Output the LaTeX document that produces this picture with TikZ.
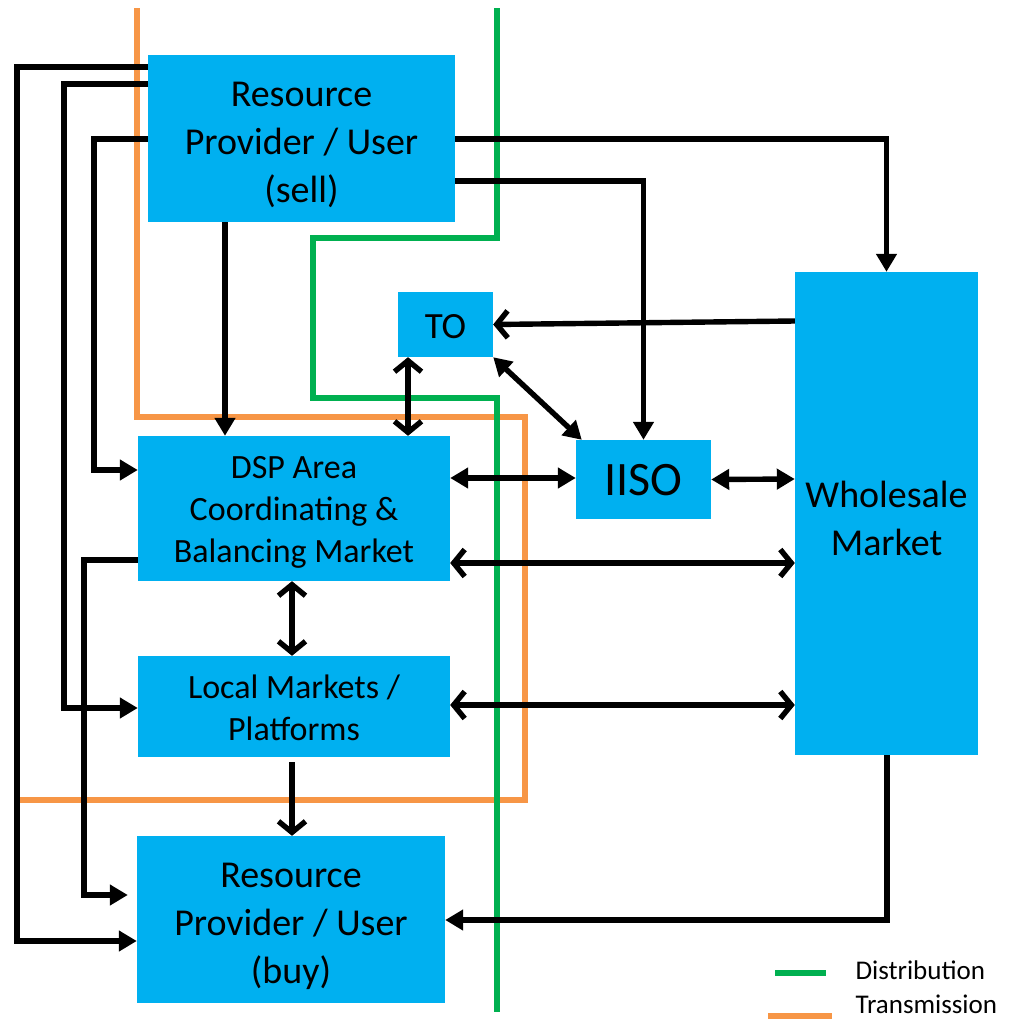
\documentclass[tikz,border=0pt]{standalone}
\usepackage{fontspec}
\setmainfont{Carlito}
\usetikzlibrary{arrows.meta,calc}
\definecolor{boxblue}{HTML}{00B0F0}
\definecolor{distgreen}{HTML}{00B050}
\definecolor{transorange}{HTML}{F79646}
\begin{document}
\begin{tikzpicture}[x=1pt,y=-1pt,
  box/.style={fill=boxblue, inner sep=0pt},
  txt/.style={align=center, text=black, inner sep=0pt},
  conn/.style={line width=5.4pt, black},
  tri/.style={conn, -{Triangle[length=18pt,width=20pt]}},
  tritri/.style={conn, {Triangle[length=18pt,width=20pt]}-{Triangle[length=18pt,width=20pt]}},
  barb/.style={conn, -{Straight Barb[length=11pt,width=27pt]}},
  barbbarb/.style={conn, {Straight Barb[length=11pt,width=27pt]}-{Straight Barb[length=11pt,width=27pt]}},
  dist/.style={line width=5.6pt, distgreen},
  trans/.style={line width=5.6pt, transorange},
  big/.style={font=\fontsize{38}{48}\selectfont},
  mid/.style={font=\fontsize{34}{42}\selectfont},
  leg/.style={font=\fontsize{27}{30}\selectfont, anchor=west}
]
\useasboundingbox (0,0) rectangle (1014,1021);
% region boundaries
\draw[trans] (137,8) -- (137,417) -- (525,417) -- (525,800) -- (20,800);
\draw[dist] (497,8) -- (497,238) -- (313,238) -- (313,398) -- (497,398) -- (497,1012);
% boxes
\node[box, minimum width=307pt, minimum height=167pt] (sell) at (301.5,138.5) {};
\node[txt, big] (selltxt) at ($(sell.center)+(0,6)$) {Resource\\Provider / User\\(sell)};
\node[box, minimum width=95pt, minimum height=65pt] (to) at (445.5,324.5) {};
\node[txt, font=\fontsize{37}{44}\selectfont] (totxt) at ($(to.center)+(0,2)$) {TO};
\node[box, minimum width=312pt, minimum height=145pt] (dsp) at (294,508.5) {};
\node[txt, mid] (dsptxt) at ($(dsp.center)+(0,4)$) {DSP Area\\Coordinating \&\\Balancing Market};
\node[box, minimum width=135pt, minimum height=79pt] (iiso) at (643.5,479.5) {};
\node[txt, font=\fontsize{48}{56}\selectfont] (iisotxt) at ($(iiso.center)+(0,1)$) {IISO};
\node[box, minimum width=183pt, minimum height=483pt] (whole) at (886.5,513.5) {};
\node[txt, big] (wholetxt) at ($(whole.center)+(0,5)$) {Wholesale\\Market};
\node[box, minimum width=312pt, minimum height=101pt] (local) at (294,706.5) {};
\node[txt, mid] (localtxt) at ($(local.center)+(0,1)$) {Local Markets /\\Platforms};
\node[box, minimum width=308pt, minimum height=167pt] (buy) at (291,919.5) {};
\node[txt, big] (buytxt) at ($(buy.center)+(0,7)$) {Resource\\Provider / User\\(buy)};
% connectors from seller on the left
\draw[tri] (sell.west |- 0,67) -- (17,67) |- (buy.west |- 0,941);
\draw[tri] (sell.west |- 0,84) -- (64,84) |- (local.west |- 0,708);
\draw[tri] (sell.west |- 0,139) -- (94,139) |- (dsp.west |- 0,470);
\draw[tri, shorten >=9pt] (dsp.west |- 0,560) -- (84,560) |- (buy.west |- 0,895);
\draw[tri] (sell.south -| 225,0) -- (dsp.north -| 225,0);
% connectors from seller on the right
\draw[tri] (sell.east |- 0,139) -| (whole.north);
\draw[tri] (sell.east |- 0,181) -| (iiso.north);
% TO
\draw[barb] (whole.west |- 0,321) -- (to.east);
\draw[barbbarb] (to.south -| 408,0) -- (dsp.north -| 408,0);
\draw[tritri] (to.south east) -- ($(iiso.north west)+(6,0)$);
% IISO, DSP, Local, Wholesale
\draw[tritri] (dsp.east |- 0,478) -- (iiso.west |- 0,478);
\draw[tritri] (iiso.east) -- (whole.west |- 0,479);
\draw[barbbarb] (dsp.east |- 0,563) -- (whole.west |- 0,563);
\draw[barbbarb] (dsp.south -| 292,0) -- (local.north -| 292,0);
\draw[barbbarb] (local.east |- 0,705) -- (whole.west |- 0,705);
\draw[barb] ($(local.south -| 292,0)+(0,5)$) -- (buy.north -| 292,0);
\draw[tri] (whole.south -| 887,0) |- (buy.east |- 0,920);
% legend
\draw[dist] (775,973) -- (826,973);
\draw[trans] (768,1016) -- (832,1016);
\node[leg] (ldist) at (852,970) {Distribution};
\node[leg] (ltrans) at (852,1004) {Transmission};
\end{tikzpicture}
\end{document}
